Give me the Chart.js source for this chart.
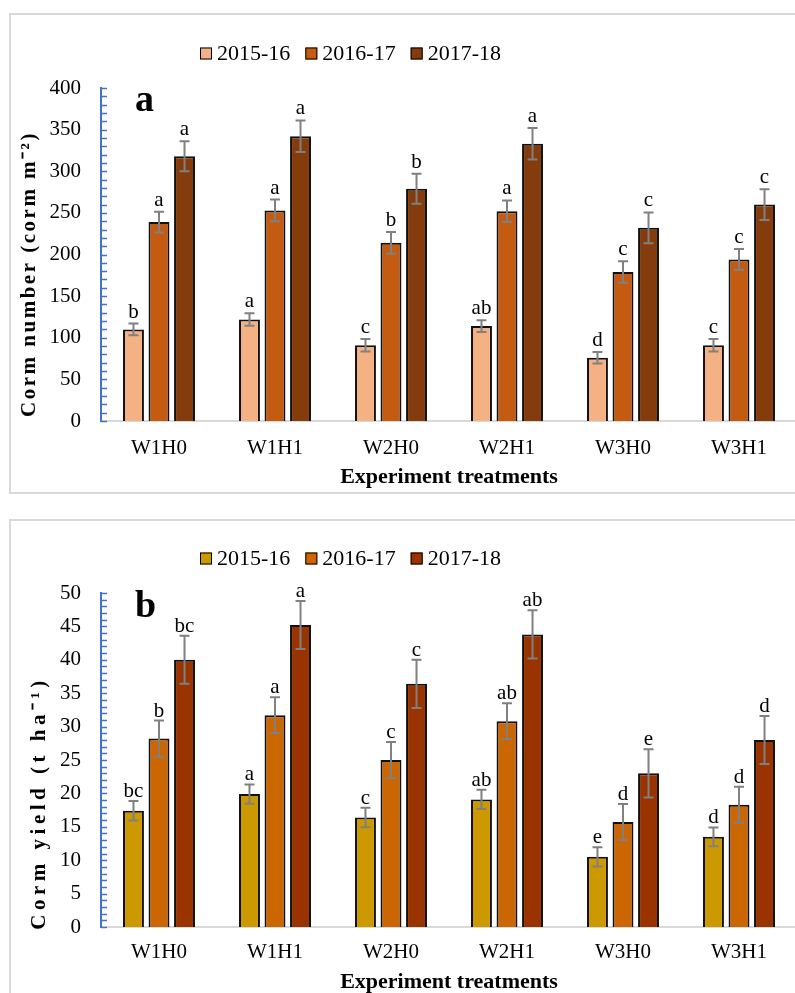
<!DOCTYPE html>
<html>
<head>
<meta charset="utf-8">
<script src="https://cdn.jsdelivr.net/npm/chart.js@4/dist/chart.umd.min.js"></script>
<style>
  html, body { margin: 0; padding: 0; background: #fff; overflow: hidden; width: 795px; height: 993px; }
  .frame { position: absolute; border: 2px solid #D9D9D9; box-sizing: border-box; }
  .holder { position: absolute; left: 0; width: 800px; }
  canvas { display: block; }
</style>
</head>
<body>
<div class="frame" style="left:9px; top:13px; width:800px; height:481px;"></div>
<div class="frame" style="left:9px; top:519px; width:800px; height:500px;"></div>
<div class="holder" style="top:0; height:500px;"><canvas id="chartA" width="800" height="500"></canvas></div>
<div class="holder" style="top:500px; height:510px;"><canvas id="chartB" width="800" height="510"></canvas></div>

<script>
// Treatments and seasons
const categories = ['W1H0', 'W1H1', 'W2H0', 'W2H1', 'W3H0', 'W3H1'];
const seasons = ['2015-16', '2016-17', '2017-18'];

// (a) Corm number (corm m-2)
const cormNumber1516 = [110, 122, 91, 114, 76, 91];
const cormNumber1617 = [239, 253, 214, 252, 179, 194];
const cormNumber1718 = [318, 342, 279, 333, 232, 260];
const cormNumberErr1516 = [7, 7.5, 7.5, 7, 7, 7.5];
const cormNumberErr1617 = [12.5, 13, 13, 13, 13, 12.5];
const cormNumberErr1718 = [18, 19, 18, 19, 18.5, 18.5];
const cormNumberLetters1516 = ['b', 'a', 'c', 'ab', 'd', 'c'];
const cormNumberLetters1617 = ['a', 'a', 'b', 'a', 'c', 'c'];
const cormNumberLetters1718 = ['a', 'a', 'b', 'a', 'c', 'c'];
const cormNumberTicks = [0, 50, 100, 150, 200, 250, 300, 350, 400];

// (b) Corm yield (t ha-1)
const cormYield1516 = [17.4, 19.9, 16.4, 19.1, 10.5, 13.5];
const cormYield1617 = [28.2, 31.7, 25.0, 30.8, 15.7, 18.3];
const cormYield1718 = [40.0, 45.2, 36.4, 43.8, 23.0, 28.0];
const cormYieldErr1516 = [1.45, 1.45, 1.45, 1.45, 1.45, 1.4];
const cormYieldErr1617 = [2.7, 2.7, 2.7, 2.7, 2.7, 2.7];
const cormYieldErr1718 = [3.6, 3.6, 3.6, 3.6, 3.6, 3.6];
const cormYieldLetters1516 = ['bc', 'a', 'c', 'ab', 'e', 'd'];
const cormYieldLetters1617 = ['b', 'a', 'c', 'ab', 'd', 'd'];
const cormYieldLetters1718 = ['bc', 'a', 'c', 'ab', 'e', 'd'];
const cormYieldTicks = [0, 5, 10, 15, 20, 25, 30, 35, 40, 45, 50];

const serif = "'Liberation Serif', 'Times New Roman', serif";

// Error bars (mean ± SE) and significance letters above each bar
const barDecor = {
  id: 'barDecor',
  afterDatasetsDraw(chart, args, opts) {
    const ctx = chart.ctx;
    const y = chart.scales.y;
    ctx.save();
    chart.data.datasets.forEach((ds, di) => {
      const meta = chart.getDatasetMeta(di);
      meta.data.forEach((bar, i) => {
        const v = ds.data[i];
        const e = ds.errors[i];
        const yTop = y.getPixelForValue(v + e);
        const yBot = y.getPixelForValue(v - e);
        ctx.strokeStyle = '#808080';
        ctx.lineWidth = 2;
        ctx.beginPath();
        ctx.moveTo(bar.x, yTop); ctx.lineTo(bar.x, yBot);
        ctx.moveTo(bar.x - 5, yTop); ctx.lineTo(bar.x + 5, yTop);
        ctx.moveTo(bar.x - 5, yBot); ctx.lineTo(bar.x + 5, yBot);
        ctx.stroke();
        ctx.fillStyle = '#000';
        ctx.font = '21px ' + serif;
        ctx.textAlign = 'center';
        ctx.textBaseline = 'alphabetic';
        ctx.fillText(ds.letters[i], bar.x, yTop - opts.gap);
      });
    });
    ctx.restore();
  }
};

// Inward tick marks on the value axis
const axisMarks = {
  id: 'axisMarks',
  afterDraw(chart, args, opts) {
    const ctx = chart.ctx;
    const y = chart.scales.y;
    const x0 = chart.chartArea.left;
    ctx.save();
    ctx.strokeStyle = '#4472C4';
    ctx.lineWidth = 1.5;
    ctx.beginPath();
    const n = Math.round((y.max - y.min) / opts.minorStep);
    for (let k = 0; k <= n; k++) {
      const py = Math.round(y.getPixelForValue(y.min + k * opts.minorStep)) + 0.5;
      ctx.moveTo(x0, py);
      ctx.lineTo(x0 + 6, py);
    }
    ctx.stroke();
    ctx.restore();
  }
};

// Season legend, panel letter and rotated value-axis title
const panelText = {
  id: 'panelText',
  afterDraw(chart, args, opts) {
    const ctx = chart.ctx;
    const area = chart.chartArea;
    ctx.save();

    // legend
    const cy = area.top + opts.legendOffsetY;
    ctx.font = '22px ' + serif;
    ctx.textBaseline = 'middle';
    ctx.textAlign = 'left';
    let x = opts.legendX;
    chart.data.datasets.forEach(ds => {
      ctx.fillStyle = ds.backgroundColor;
      ctx.fillRect(x, cy - 6, 12, 12);
      ctx.strokeStyle = '#000';
      ctx.lineWidth = 1;
      ctx.strokeRect(x + 0.5, cy - 5.5, 11, 11);
      ctx.fillStyle = '#000';
      ctx.fillText(ds.label, x + 17, cy + 1);
      x += 17 + ctx.measureText(ds.label).width + 15;
    });

    // panel letter
    ctx.font = 'bold 38px ' + serif;
    ctx.textBaseline = 'alphabetic';
    ctx.fillText(opts.panel, area.left + 34, area.top + opts.panelOffsetY);

    // value-axis title
    ctx.translate(opts.titleX, opts.titleY);
    ctx.rotate(-Math.PI / 2);
    ctx.font = 'bold 21px ' + serif;
    ctx.letterSpacing = opts.titleSpacing + 'px';
    ctx.textAlign = 'center';
    ctx.textBaseline = 'middle';
    ctx.fillText(opts.yTitle, 0, 0);
    ctx.restore();
  }
};

function buildChart(canvasId, cfg) {
  const datasets = seasons.map((s, k) => ({
    label: s,
    data: cfg.values[k],
    errors: cfg.errors[k],
    letters: cfg.letters[k],
    backgroundColor: cfg.colors[k],
    borderColor: '#111',
    borderWidth: 2,
    categoryPercentage: 0.66,
    barPercentage: 0.82
  }));
  return new Chart(document.getElementById(canvasId), {
    type: 'bar',
    data: { labels: categories, datasets },
    plugins: [barDecor, axisMarks, panelText],
    options: {
      responsive: false,
      animation: false,
      devicePixelRatio: 1,
      layout: { padding: cfg.padding },
      plugins: {
        legend: { display: false },
        tooltip: { enabled: false },
        barDecor: { gap: cfg.letterGap },
        axisMarks: { minorStep: cfg.minorStep },
        panelText: {
          panel: cfg.panel,
          panelOffsetY: cfg.panelOffsetY,
          legendX: 200,
          legendOffsetY: -34.5,
          yTitle: cfg.yTitle,
          titleX: cfg.titleX,
          titleY: cfg.titleY,
          titleSpacing: cfg.titleSpacing
        }
      },
      scales: {
        x: {
          grid: { display: false, drawTicks: false },
          border: { color: '#D9D9D9', width: 2 },
          ticks: { font: { family: serif, size: 21 }, color: '#000', padding: cfg.xTickPad },
          title: {
            display: true,
            text: 'Experiment treatments',
            font: { family: serif, size: 22, weight: 'bold' },
            color: '#000',
            padding: { top: 0, bottom: 1 }
          },
          afterFit(scale) { scale.height = cfg.xHeight; }
        },
        y: {
          min: cfg.ticks[0],
          max: cfg.ticks[cfg.ticks.length - 1],
          grid: { display: false, drawTicks: false },
          border: { color: '#4472C4', width: 2 },
          afterBuildTicks(scale) { scale.ticks = cfg.ticks.map(v => ({ value: v })); },
          ticks: { font: { family: serif, size: 21 }, color: '#000', padding: 20 },
          afterFit(scale) { scale.width = 83; }
        }
      }
    }
  });
}

buildChart('chartA', {
  values: [cormNumber1516, cormNumber1617, cormNumber1718],
  errors: [cormNumberErr1516, cormNumberErr1617, cormNumberErr1718],
  letters: [cormNumberLetters1516, cormNumberLetters1617, cormNumberLetters1718],
  colors: ['#F4B183', '#C55A11', '#843C0C'],
  ticks: cormNumberTicks,
  minorStep: 10,
  padding: { top: 88, left: 18, right: 3, bottom: 8 },
  xHeight: 71,
  xTickPad: 15,
  letterGap: 6,
  panel: 'a',
  panelOffsetY: 23,
  yTitle: 'Corm number (corm m\u207B\u00B2)',
  titleX: 30,
  titleY: 274,
  titleSpacing: 2.5
});

buildChart('chartB', {
  values: [cormYield1516, cormYield1617, cormYield1718],
  errors: [cormYieldErr1516, cormYieldErr1617, cormYieldErr1718],
  letters: [cormYieldLetters1516, cormYieldLetters1617, cormYieldLetters1718],
  colors: ['#CC9900', '#CC6600', '#993300'],
  ticks: cormYieldTicks,
  minorStep: 1,
  padding: { top: 93, left: 18, right: 3, bottom: 13 },
  xHeight: 70,
  xTickPad: 13,
  letterGap: 4,
  panel: 'b',
  panelOffsetY: 24,
  yTitle: 'Corm yield (t ha\u207B\u00B9)',
  titleX: 40,
  titleY: 303,
  titleSpacing: 4.5
});
</script>
</body>
</html>
